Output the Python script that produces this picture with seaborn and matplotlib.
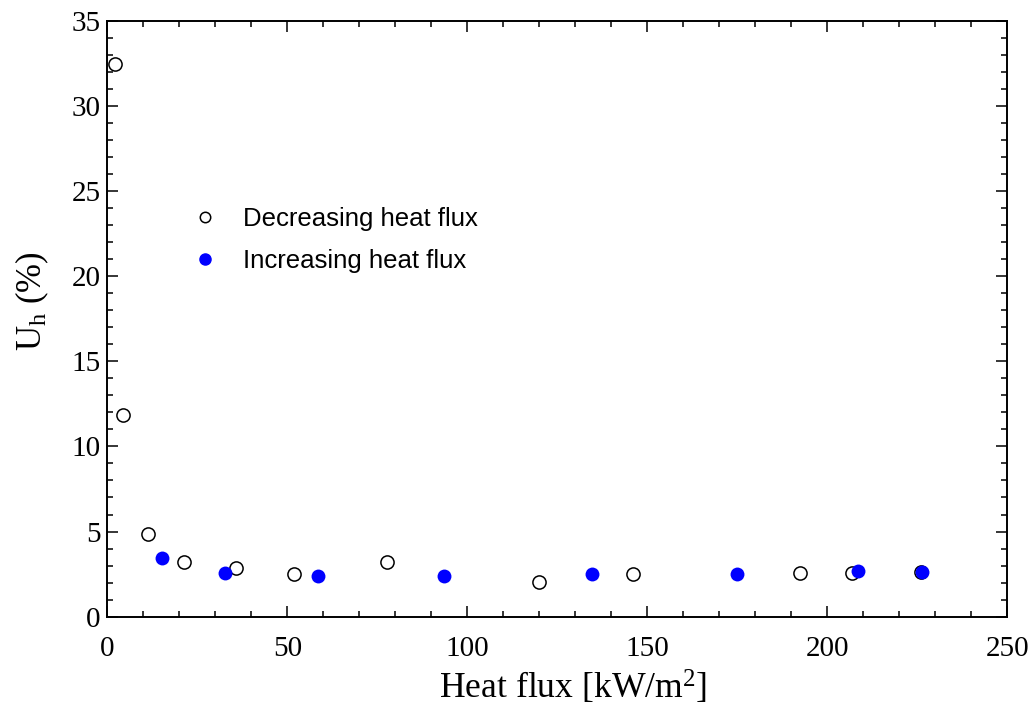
import matplotlib
matplotlib.use("Agg")
import matplotlib.pyplot as plt
from matplotlib.ticker import MultipleLocator
from matplotlib.lines import Line2D
import seaborn as sns
import pandas as pd

# Uncertainty of heat transfer coefficient vs. heat flux
dec_flux = [2.1, 4.4, 11.2, 21.2, 35.8, 51.8, 77.6, 120.0, 146.0, 192.4, 206.8, 226.0]
dec_uh = [32.45, 11.85, 4.87, 3.23, 2.84, 2.49, 3.23, 2.06, 2.49, 2.58, 2.58, 2.62]

inc_flux = [15.2, 32.8, 58.4, 93.6, 134.7, 174.8, 208.6, 226.4]
inc_uh = [3.47, 2.58, 2.39, 2.41, 2.49, 2.52, 2.68, 2.64]

x_ticks = [0, 50, 100, 150, 200, 250]
y_ticks = [0, 5, 10, 15, 20, 25, 30, 35]

sns.set_style("ticks")
plt.rcParams.update({
    "font.family": ["Liberation Serif", "DejaVu Serif"],
    "mathtext.fontset": "custom",
    "mathtext.rm": "Liberation Serif",
    "mathtext.it": "Liberation Serif:italic",
    "text.color": "black",
    "axes.labelcolor": "black",
    "xtick.color": "black",
    "ytick.color": "black",
    "axes.edgecolor": "black",
})

dec_df = pd.DataFrame({"flux": dec_flux, "uh": dec_uh})
inc_df = pd.DataFrame({"flux": inc_flux, "uh": inc_uh})

fig = plt.figure(figsize=(10.35, 7.15), dpi=100)
ax = fig.add_axes([0.1037, 0.1375, 0.8696, 0.8336])

sns.scatterplot(data=dec_df, x="flux", y="uh", ax=ax, marker="o", s=90,
                facecolor="white", edgecolor="black", linewidth=1.1, zorder=3)
sns.scatterplot(data=inc_df, x="flux", y="uh", ax=ax, marker="o", s=100,
                color="#0000ff", edgecolor="#0000ff", linewidth=0, zorder=4)

ax.set_xlim(0, 250)
ax.set_ylim(0, 35)
ax.set_xticks(x_ticks)
ax.set_yticks(y_ticks)
ax.xaxis.set_minor_locator(MultipleLocator(10))
ax.yaxis.set_minor_locator(MultipleLocator(1))
ax.tick_params(which="both", direction="in", top=True, right=True,
               width=1.1, color="black")
ax.tick_params(which="major", length=8, labelsize=21)
ax.tick_params(axis="x", which="major", pad=14)
ax.tick_params(axis="y", which="major", pad=5)
ax.tick_params(which="minor", length=4.5)
for sp in ax.spines.values():
    sp.set_linewidth(1.4)
    sp.set_color("black")

ax.set_xlabel("Heat flux [kW/m$^{2}$]", fontsize=25.7)
ax.set_ylabel("U$_{\\mathrm{h}}$ (%)", fontsize=25)
ax.xaxis.set_label_coords(0.517, -0.088)
ax.yaxis.set_label_coords(-0.063, 0.53)

handles = [
    Line2D([], [], linestyle="none", marker="o", markersize=7.5,
           markerfacecolor="white", markeredgecolor="black", markeredgewidth=1.1),
    Line2D([], [], linestyle="none", marker="o", markersize=8,
           markerfacecolor="#0000ff", markeredgecolor="#0000ff"),
]
ax.legend(handles, ["Decreasing heat flux", "Increasing heat flux"],
          loc="center left", bbox_to_anchor=(0.054, 0.632), frameon=False,
          prop={"family": "Liberation Sans", "size": 18.5},
          handlelength=2.0, handletextpad=0.5, labelspacing=0.71,
          borderpad=0.4)

fig.savefig("out.png", dpi=100)
